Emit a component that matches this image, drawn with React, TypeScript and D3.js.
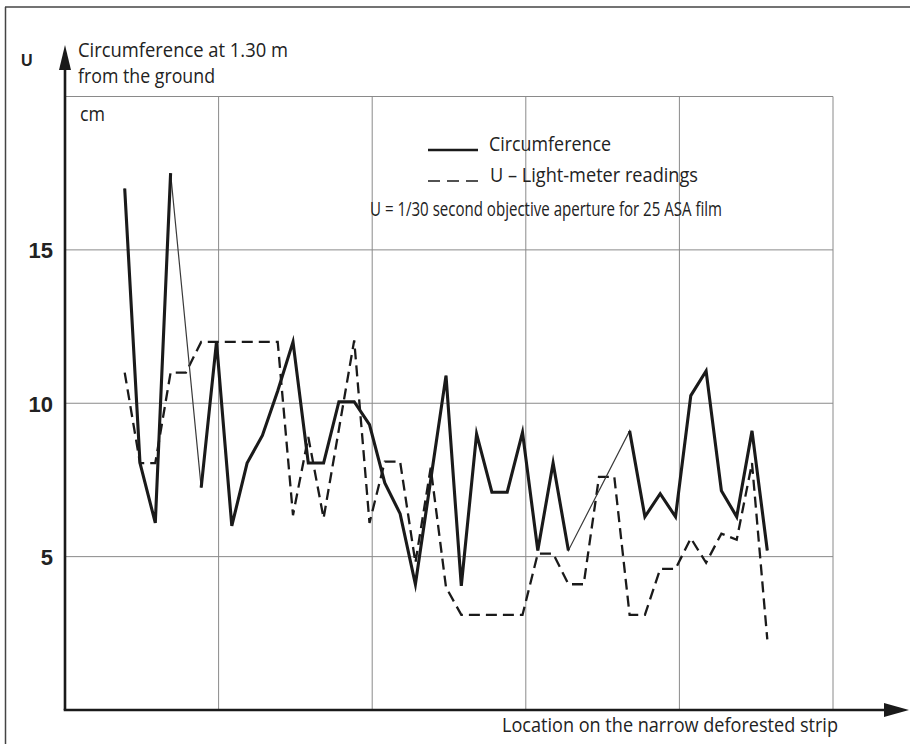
import React from "react";
import * as d3 from "d3";

// location index along the strip (one reading every 1/10 of a grid cell)
const locations = [
  4, 5, 6, 7, 8, 9, 10, 11, 12, 13, 14, 15, 16, 17, 18, 19, 20, 21, 22, 23, 24, 25,
  26, 27, 28, 29, 30, 31, 32, 33, 34, 35, 36, 37, 38, 39, 40, 41, 42, 43, 44, 45, 46,
];

// circumference at 1.30 m (cm); null = no tree measured there
const circumference: (number | null)[] = [
  17.0, 8.05, 6.1, 17.5, null, 7.25, 12.0, 6.0, 8.05, 8.95, 10.4, 12.0, 8.05, 8.05,
  10.05, 10.05, 9.3, 7.4, 6.4, 4.1, 7.5, 10.9, 4.05, 9.0, 7.1, 7.1, 9.05, 5.2, 8.05,
  5.2, null, null, null, 9.1, 6.3, 7.05, 6.3, 10.25, 11.05, 7.15, 6.3, 9.1, 5.2,
];

// U - light-meter readings
const lightMeter = [
  11.0, 8.05, 8.05, 11.0, 11.0, 12.0, 12.0, 12.0, 12.0, 12.0, 12.0, 6.35, 8.9, 6.25,
  9.15, 12.05, 6.1, 8.1, 8.1, 4.8, 7.9, 4.0, 3.1, 3.1, 3.1, 3.1, 3.1, 5.1, 5.1, 4.1,
  4.1, 7.6, 7.6, 3.1, 3.1, 4.6, 4.6, 5.6, 4.8, 5.75, 5.55, 8.05, 2.3,
];

const yTicks = [5, 10, 15];
const yGrid = [5, 10, 15, 20];
const xGrid = [1, 2, 3, 4, 5];

const W = 910;
const H = 744;
const ink = "#1a1a1a";
const textInk = "#222";
const font = "'Liberation Sans Narrow', 'Open Sans', 'Noto Sans', sans-serif";

export default function App() {
  const originX = 65;
  const originY = 710;

  const y = d3.scaleLinear().domain([0, 20]).range([originY, 96.5]);
  const gx = d3.scaleLinear().domain([0, 5]).range([originX, 833]);
  const x = d3.scaleLinear().domain([0, 50]).range([63.5, 828.5]);

  type P = { loc: number; v: number | null };
  const circ: P[] = locations.map((loc, i) => ({ loc, v: circumference[i] }));
  const light: P[] = locations.map((loc, i) => ({ loc, v: lightMeter[i] }));

  const line = d3
    .line<P>()
    .defined((d) => d.v !== null)
    .x((d) => x(d.loc))
    .y((d) => y(d.v as number));

  // thin connector across the gaps, thick where measured
  const circThin = line(circ.filter((d) => d.v !== null)) || "";
  const circThick = line(circ) || "";
  const lightPath = line(light) || "";

  const label = (
    txt: string,
    tx: number,
    ty: number,
    len: number,
    size = 20
  ) => (
    <text
      x={tx}
      y={ty}
      fontSize={size}
      fontFamily={font}
      fill={textInk}
      textLength={len}
      lengthAdjust="spacingAndGlyphs"
    >
      {txt}
    </text>
  );

  return (
    <svg
      width={W}
      height={H}
      style={{ position: "absolute", left: 0, top: 0, background: "#fff" }}
    >
      <rect x={0} y={0} width={W} height={H} fill="#fff" />
      {/* scan border */}
      <line x1={5} y1={7} x2={W} y2={7} stroke="#444" strokeWidth={1.5} />
      <line x1={5.5} y1={7} x2={5.5} y2={H} stroke="#444" strokeWidth={1.5} />

      {/* grid */}
      {yGrid.map((v) => (
        <line
          key={"h" + v}
          x1={originX}
          x2={gx(5)}
          y1={y(v)}
          y2={y(v)}
          stroke="#8a8a8a"
          strokeWidth={1}
        />
      ))}
      {xGrid.map((g) => (
        <line
          key={"v" + g}
          x1={gx(g)}
          x2={gx(g)}
          y1={y(20)}
          y2={originY}
          stroke="#8a8a8a"
          strokeWidth={1}
        />
      ))}

      {/* axes with arrows */}
      <line x1={originX} y1={originY} x2={originX} y2={62} stroke={ink} strokeWidth={2.6} />
      <path d={`M${originX},45 L${originX - 6},70 L${originX + 6},70 Z`} fill={ink} />
      <line x1={originX - 1.3} y1={originY} x2={888} y2={originY} stroke={ink} strokeWidth={2.6} />
      <path d={`M909,${originY} L884,${originY - 7} L884,${originY + 7} Z`} fill={ink} />

      {/* y tick labels */}
      {yTicks.map((t) => (
        <text
          key={t}
          x={53}
          y={y(t) + 8.5}
          textAnchor="end"
          fontSize={22}
          fontWeight="bold"
          fontFamily="'Liberation Sans', Arial, sans-serif"
          fill={textInk}
        >
          {t}
        </text>
      ))}
      <text
        x={21}
        y={66}
        fontSize={16}
        fontWeight="bold"
        fontFamily="'Liberation Sans', Arial, sans-serif"
        fill={textInk}
      >
        U
      </text>

      {/* axis titles */}
      {label("Circumference at 1.30 m", 78, 57, 210)}
      {label("from the ground", 78, 83, 137)}
      {label("cm", 80, 121, 25)}
      {label("Location on the narrow deforested strip", 502, 732, 336)}

      {/* legend */}
      <line x1={428} x2={478} y1={150} y2={150} stroke={ink} strokeWidth={2.6} />
      {label("Circumference", 489, 151, 122)}
      <line
        x1={428}
        x2={478}
        y1={181}
        y2={181}
        stroke={ink}
        strokeWidth={1.6}
        strokeDasharray="12,7"
      />
      {label("U \u2013 Light-meter readings", 490, 182, 208)}
      {label("U = 1/30 second objective aperture for 25 ASA film", 370, 216, 352)}

      {/* series */}
      <path
        d={lightPath}
        fill="none"
        stroke={ink}
        strokeWidth={2.3}
        strokeDasharray="11,6"
        strokeLinejoin="miter"
      />
      <path d={circThin} fill="none" stroke="#3a3a3a" strokeWidth={1.2} />
      <path
        d={circThick}
        fill="none"
        stroke={ink}
        strokeWidth={3.1}
        strokeLinejoin="miter"
        strokeMiterlimit={6}
      />
    </svg>
  );
}
